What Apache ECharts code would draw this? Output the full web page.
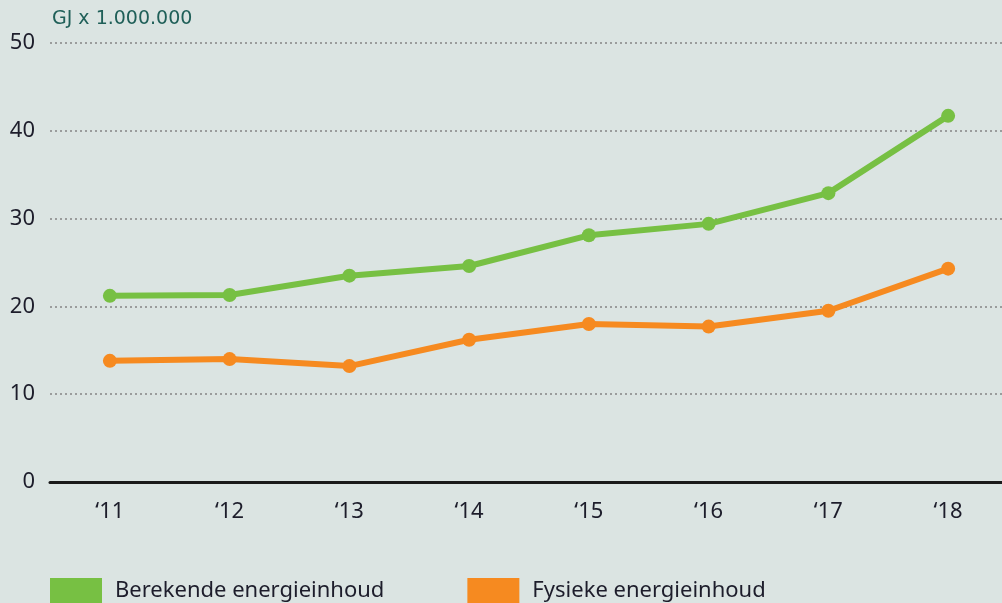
<!DOCTYPE html>
<html lang="nl">
<head>
    <meta charset="UTF-8">
    <title>Energieinhoud</title>
    <script src="https://cdn.jsdelivr.net/npm/echarts@6/dist/echarts.min.js"></script>
    <style>
        html, body { margin: 0; padding: 0; background: #dbe4e2; }
        #main { width: 1002px; height: 603px; }
    </style>
</head>
<body>
<div id="main"></div>
<script type="text/javascript">
    // jaren en waarden (GJ x 1.000.000)
    var years = ['\u201811', '\u201812', '\u201813', '\u201814', '\u201815', '\u201816', '\u201817', '\u201818'];
    var berekend = [21.2, 21.3, 23.5, 24.6, 28.1, 29.4, 32.9, 41.7];
    var fysiek = [13.8, 14.0, 13.2, 16.2, 18.0, 17.7, 19.5, 24.3];

    var font = 'Noto Sans';
    var myChart = echarts.init(document.getElementById('main'));

    var option = {
        backgroundColor: '#dbe4e2',
        animation: false,
        title: {
            text: 'GJ x 1.000.000',
            left: 47,
            top: 5,
            textStyle: { color: '#1f5f58', fontSize: 19, fontWeight: 'normal', fontFamily: 'DejaVu Sans' }
        },
        legend: {
            top: 573,
            left: 45,
            icon: 'rect',
            itemWidth: 52,
            itemHeight: 25,
            itemGap: 83,
            textStyle: { color: '#1d1d2b', fontSize: 22, fontFamily: font, padding: [0, 0, 0, 8] },
            data: ['Berekende energieinhoud', 'Fysieke energieinhoud']
        },
        grid: { left: 50, width: 958, top: 43, bottom: 121, outerBoundsMode: 'none' },
        xAxis: {
            type: 'category',
            data: years,
            boundaryGap: true,
            axisLine: { lineStyle: { color: '#1a1a1a', width: 3 } },
            axisTick: { show: false },
            axisLabel: { color: '#1d1d2b', fontSize: 22, fontFamily: font, margin: 19 }
        },
        yAxis: {
            type: 'value',
            min: 0,
            max: 50,
            interval: 10,
            axisLine: { show: false },
            axisTick: { show: false },
            axisLabel: { color: '#1d1d2b', fontSize: 22, fontFamily: font, margin: 15 },
            splitLine: {
                lineStyle: { color: '#9a9c9c', width: 2, type: [2, 3] }
            }
        },
        series: [
            {
                name: 'Berekende energieinhoud',
                type: 'line',
                data: berekend,
                color: '#77c043',
                symbol: 'circle',
                symbolSize: 14,
                lineStyle: { width: 6 }
            },
            {
                name: 'Fysieke energieinhoud',
                type: 'line',
                data: fysiek,
                color: '#f68a20',
                symbol: 'circle',
                symbolSize: 14,
                lineStyle: { width: 6 }
            }
        ]
    };

    myChart.setOption(option);
</script>
</body>
</html>
